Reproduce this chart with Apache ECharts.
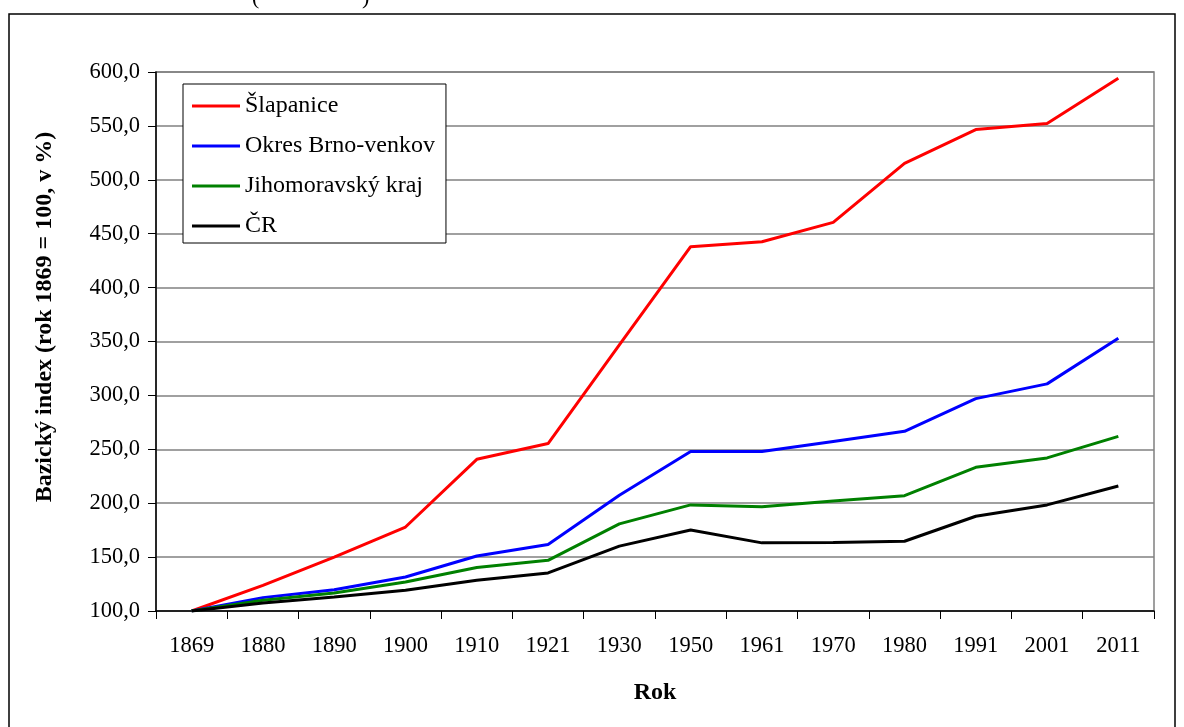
<!DOCTYPE html>
<html>
<head>
<meta charset="utf-8">
<script src="https://cdn.jsdelivr.net/npm/echarts@6/dist/echarts.min.js"></script>
<style>
  html, body { margin: 0; padding: 0; background: #fff; }
  #chart { width: 1184px; height: 727px; }
</style>
</head>
<body>
<div id="chart"></div>
<script>
// roky sčítání
const years = ['1869', '1880', '1890', '1900', '1910', '1921', '1930', '1950', '1961', '1970', '1980', '1991', '2001', '2011'];

// bazický index (1869 = 100)
const slapanice = [100, 123.8, 150, 177.9, 240.7, 255.3, 346.8, 437.9, 442.6, 460.5, 515.3, 546.6, 552.3, 594.2];
const brnoVenkov = [100, 112.4, 119.8, 131.5, 151, 161.6, 207.3, 247.9, 247.9, 257.3, 266.7, 297, 310.7, 353];
const jmKraj = [100, 109.9, 116.7, 126.9, 140.3, 147, 180.8, 198.4, 196.8, 202.1, 207, 233.3, 242, 262];
const cr = [100, 107.4, 113, 119.2, 128.5, 135.3, 160.2, 175.2, 163.2, 163.6, 164.7, 187.9, 198.4, 216];

const seriesNames = ['Šlapanice', 'Okres Brno-venkov', 'Jihomoravský kraj', 'ČR'];
const seriesColors = ['#ff0000', '#0000ff', '#008000', '#000000'];

const serif = '"Liberation Serif", "Times New Roman", serif';

const chart = echarts.init(document.getElementById('chart'));

function makeLine(name, data, color) {
  return {
    name: name,
    type: 'line',
    data: data,
    symbol: 'none',
    lineStyle: { color: color, width: 3 },
    itemStyle: { color: color },
    animation: false
  };
}

chart.setOption({
  animation: false,
  textStyle: { fontFamily: serif },
  grid: {
    left: 156, right: 30, top: 72, bottom: 116,
    show: true, borderColor: '#808080', borderWidth: 1.5
  },
  legend: {
    orient: 'vertical',
    left: 183, top: 84,
    backgroundColor: '#fff',
    borderColor: '#000', borderWidth: 1,
    borderRadius: 0,
    padding: [10, 11, 5, 9],
    itemWidth: 48, itemHeight: 3, itemGap: 16,
    icon: 'rect',
    textStyle: { fontFamily: serif, fontSize: 24, color: '#000', lineHeight: 24 },
    data: seriesNames
  },
  xAxis: {
    type: 'category',
    data: years,
    boundaryGap: true,
    name: 'Rok',
    nameLocation: 'middle',
    nameGap: 70,
    nameTextStyle: { fontFamily: serif, fontSize: 24, fontWeight: 'bold', color: '#000' },
    axisLine: { lineStyle: { color: '#000', width: 1.5 } },
    axisTick: { show: true, length: 8, lineStyle: { color: '#000' } },
    axisLabel: { fontFamily: serif, fontSize: 22.5, color: '#000', margin: 24, interval: 0 },
    splitLine: { show: false }
  },
  yAxis: {
    type: 'value',
    min: 100, max: 600, interval: 50,
    axisLine: { show: true, lineStyle: { color: '#000', width: 1.5 } },
    axisTick: { show: true, length: 8, lineStyle: { color: '#000' } },
    axisLabel: {
      fontFamily: serif, fontSize: 22.5, color: '#000', margin: 16,
      formatter: v => v.toFixed(1).replace('.', ',')
    },
    splitLine: { show: true, lineStyle: { color: '#808080', width: 1.5 } }
  },
  graphic: [
    {
      type: 'rect', silent: true, z: -1,
      shape: { x: 9, y: 14, width: 1166, height: 760 },
      style: { fill: 'none', stroke: '#000', lineWidth: 1.5 }
    },
    // název osy y (v Excelu není centrovaný na plochu grafu)
    {
      type: 'text', silent: true, x: 45, y: 317, rotation: Math.PI / 2,
      style: {
        text: 'Bazický index (rok 1869 = 100, v %)',
        font: 'bold 24px ' + serif, fill: '#000',
        align: 'center', verticalAlign: 'middle'
      }
    },
    {
      type: 'text', silent: true, left: 252, top: -13,
      style: { text: '(', font: '22px ' + serif, fill: '#000' }
    },
    {
      type: 'text', silent: true, left: 362, top: -13,
      style: { text: ')', font: '22px ' + serif, fill: '#000' }
    }
  ],
  series: [
    makeLine(seriesNames[0], slapanice, seriesColors[0]),
    makeLine(seriesNames[1], brnoVenkov, seriesColors[1]),
    makeLine(seriesNames[2], jmKraj, seriesColors[2]),
    makeLine(seriesNames[3], cr, seriesColors[3])
  ]
});

window.addEventListener('resize', () => chart.resize());
</script>
</body>
</html>
